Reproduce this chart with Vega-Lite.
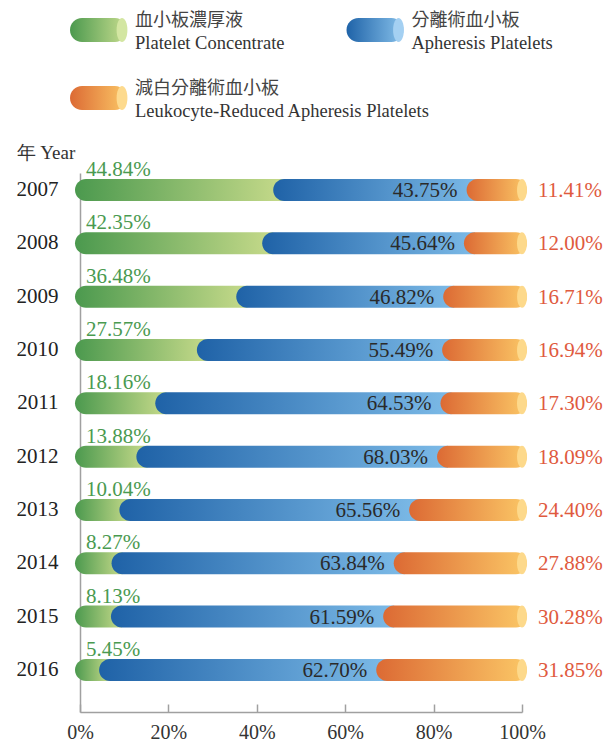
{
  "$schema": "https://vega.github.io/schema/vega-lite/v6.json",
  "padding": {"left": 16, "top": 12, "right": 0, "bottom": 5},
  "config": {"view": {"stroke": null}, "font": "Liberation Serif"},
  "spacing": 75,
  "bounds": "flush",
  "datasets": {
    "legend": [
      {"col": 0, "row": 0, "key": "pc", "zh": "血小板濃厚液", "en": "Platelet Concentrate"},
      {"col": 1, "row": 0, "key": "ap", "zh": "分離術血小板", "en": "Apheresis Platelets"},
      {"col": 0, "row": 1, "key": "lr", "zh": "減白分離術血小板", "en": "Leukocyte-Reduced Apheresis Platelets"}
    ],
    "main": [
      {"year": "2007", "pc": 44.84, "ap": 43.75, "lr": 11.41},
      {"year": "2008", "pc": 42.35, "ap": 45.64, "lr": 12.00},
      {"year": "2009", "pc": 36.48, "ap": 46.82, "lr": 16.71},
      {"year": "2010", "pc": 27.57, "ap": 55.49, "lr": 16.94},
      {"year": "2011", "pc": 18.16, "ap": 64.53, "lr": 17.30},
      {"year": "2012", "pc": 13.88, "ap": 68.03, "lr": 18.09},
      {"year": "2013", "pc": 10.04, "ap": 65.56, "lr": 24.40},
      {"year": "2014", "pc": 8.27, "ap": 63.84, "lr": 27.88},
      {"year": "2015", "pc": 8.13, "ap": 61.59, "lr": 30.28},
      {"year": "2016", "pc": 5.45, "ap": 62.70, "lr": 31.85}
    ]
  },
  "vconcat": [
    {
      "width": 276.5,
      "height": 68,
      "data": {"name": "legend"},
      "encoding": {
        "x": {"field": "col", "type": "quantitative", "scale": {"domain": [0, 1], "nice": false, "zero": false}, "axis": null},
        "y": {"field": "row", "type": "quantitative", "scale": {"domain": [0, 1], "nice": false, "reverse": true}, "axis": null}
      },
      "layer": [
        {
          "transform": [{"filter": "datum.key=='pc'"}],
          "mark": {"type": "point", "filled": true, "opacity": 1, "strokeWidth": 0, "size": 576, "xOffset": 18.5,
            "shape": "M-1.375,-1L1.375,-1C1.927,-1,2.375,-0.552,2.375,0C2.375,0.552,1.927,1,1.375,1L-1.375,1C-1.927,1,-2.375,0.552,-2.375,0C-2.375,-0.552,-1.927,-1,-1.375,-1Z",
            "color": {"gradient": "linear", "x1": 0, "x2": 1, "y1": 0, "y2": 0, "stops": [{"offset": 0, "color": "#4b994e"}, {"offset": 1, "color": "#c6dc8e"}]}}
        },
        {
          "transform": [{"filter": "datum.key=='ap'"}],
          "mark": {"type": "point", "filled": true, "opacity": 1, "strokeWidth": 0, "size": 576, "xOffset": 18.5,
            "shape": "M-1.375,-1L1.375,-1C1.927,-1,2.375,-0.552,2.375,0C2.375,0.552,1.927,1,1.375,1L-1.375,1C-1.927,1,-2.375,0.552,-2.375,0C-2.375,-0.552,-1.927,-1,-1.375,-1Z",
            "color": {"gradient": "linear", "x1": 0, "x2": 1, "y1": 0, "y2": 0, "stops": [{"offset": 0, "color": "#1f63a8"}, {"offset": 1, "color": "#86c0ea"}]}}
        },
        {
          "transform": [{"filter": "datum.key=='lr'"}],
          "mark": {"type": "point", "filled": true, "opacity": 1, "strokeWidth": 0, "size": 576, "xOffset": 18.5,
            "shape": "M-1.375,-1L1.375,-1C1.927,-1,2.375,-0.552,2.375,0C2.375,0.552,1.927,1,1.375,1L-1.375,1C-1.927,1,-2.375,0.552,-2.375,0C-2.375,-0.552,-1.927,-1,-1.375,-1Z",
            "color": {"gradient": "linear", "x1": 0, "x2": 1, "y1": 0, "y2": 0, "stops": [{"offset": 0, "color": "#dc6a34"}, {"offset": 1, "color": "#fbc766"}]}}
        },
        {
          "mark": {"type": "point", "filled": true, "opacity": 1, "strokeWidth": 0, "size": 576, "xOffset": 42,
            "shape": "M0,-1C0.25,-1,0.45,-0.552,0.45,0C0.45,0.552,0.25,1,0,1C-0.25,1,-0.45,0.552,-0.45,0C-0.45,-0.552,-0.25,-1,0,-1Z"},
          "encoding": {
            "color": {"field": "key", "type": "nominal", "legend": null, "scale": {"domain": ["pc", "ap", "lr"], "range": ["#d3e6a2", "#a4d0f2", "#fdda8e"]}}
          }
        },
        {
          "mark": {"type": "text", "align": "left", "baseline": "alphabetic", "xOffset": 55, "dy": -4, "font": "Noto Sans CJK TC", "fontSize": 18, "color": "#444"},
          "encoding": {"text": {"field": "zh"}}
        },
        {
          "mark": {"type": "text", "align": "left", "baseline": "alphabetic", "xOffset": 55, "dy": 19, "font": "Liberation Serif", "fontSize": 18.5, "color": "#333"},
          "encoding": {"text": {"field": "en"}}
        }
      ]
    },
    {
      "width": 442,
      "height": 539,
      "data": {"name": "main"},
      "transform": [
        {"fold": ["pc", "ap", "lr"], "as": ["key", "value"]},
        {"stack": "value", "groupby": ["year"], "as": ["x0", "x1"]},
        {"calculate": "format(datum.value, '.2f') + '%'", "as": "label"}
      ],
      "encoding": {
        "y": {
          "field": "year", "type": "ordinal",
          "scale": {"paddingInner": 0.3625, "paddingOuter": 0.235, "align": 0},
          "axis": {
            "title": "年 Year", "titleAngle": 0, "titleAlign": "left", "titleBaseline": "alphabetic",
            "titleX": -64, "titleY": -15, "titleFont": "Liberation Serif", "titleFontSize": 19, "titleFontWeight": "normal", "titleColor": "#333",
            "labelFont": "Liberation Serif", "labelFontSize": 21, "labelColor": "#222", "labelPadding": 22,
            "ticks": false, "domainColor": "#a0a0a0", "domainWidth": 1.5
          }
        }
      },
      "layer": [
        {
          "transform": [{"filter": "datum.key=='pc'"}],
          "mark": {"type": "bar", "height": 22, "xOffset": -5, "x2Offset": 6, "cornerRadiusTopLeft": 11, "cornerRadiusBottomLeft": 11,
            "color": {"gradient": "linear", "x1": 0, "x2": 1, "y1": 0, "y2": 0, "stops": [{"offset": 0, "color": "#4b994e"}, {"offset": 1, "color": "#c6da8a"}]}},
          "encoding": {
            "x": {"field": "x0", "type": "quantitative", "scale": {"domain": [0, 100], "nice": false},
              "axis": {"values": [0, 20, 40, 60, 80, 100], "labelExpr": "datum.value + '%'", "title": null, "grid": false,
                "tickSize": -8, "tickColor": "#a0a0a0", "tickWidth": 1.5, "domainColor": "#a0a0a0", "domainWidth": 1.5,
                "labelPadding": 18, "labelFlush": false, "labelFont": "Liberation Serif", "labelFontSize": 20, "labelColor": "#333"}},
            "x2": {"field": "x1"}
          }
        },
        {
          "transform": [{"filter": "datum.key=='ap'"}],
          "mark": {"type": "bar", "height": 22, "xOffset": -5, "x2Offset": 6, "cornerRadiusTopLeft": 11, "cornerRadiusBottomLeft": 11,
            "color": {"gradient": "linear", "x1": 0, "x2": 1, "y1": 0, "y2": 0, "stops": [{"offset": 0, "color": "#1f62a7"}, {"offset": 1, "color": "#7cbae7"}]}},
          "encoding": {"x": {"field": "x0", "type": "quantitative"}, "x2": {"field": "x1"}}
        },
        {
          "transform": [{"filter": "datum.key=='lr'"}],
          "mark": {"type": "bar", "height": 22, "xOffset": -5, "x2Offset": 5, "cornerRadius": 11,
            "color": {"gradient": "linear", "x1": 0, "x2": 1, "y1": 0, "y2": 0, "stops": [{"offset": 0, "color": "#dc6a34"}, {"offset": 1, "color": "#fbc766"}]}},
          "encoding": {"x": {"field": "x0", "type": "quantitative"}, "x2": {"field": "x1"}}
        },
        {
          "transform": [{"filter": "datum.key=='lr'"}],
          "mark": {"type": "point", "filled": true, "opacity": 1, "strokeWidth": 0, "size": 484, "color": "#fdd98b",
            "shape": "M0,-1C0.25,-1,0.45,-0.552,0.45,0C0.45,0.552,0.25,1,0,1C-0.25,1,-0.45,0.552,-0.45,0C-0.45,-0.552,-0.25,-1,0,-1Z"},
          "encoding": {"x": {"field": "x1", "type": "quantitative"}}
        },
        {
          "transform": [{"filter": "datum.key=='pc'"}],
          "mark": {"type": "text", "align": "left", "baseline": "alphabetic", "dx": 6, "dy": -14, "fontSize": 21, "color": "#4a9a50"},
          "encoding": {"x": {"field": "x0", "type": "quantitative"}, "text": {"field": "label"}}
        },
        {
          "transform": [{"filter": "datum.key=='ap'"}],
          "mark": {"type": "text", "align": "right", "baseline": "alphabetic", "dx": -14, "dy": 7, "fontSize": 21, "color": "#2a2a2a"},
          "encoding": {"x": {"field": "x1", "type": "quantitative"}, "text": {"field": "label"}}
        },
        {
          "transform": [{"filter": "datum.key=='lr'"}],
          "mark": {"type": "text", "align": "left", "baseline": "alphabetic", "dx": 16, "dy": 7, "fontSize": 21, "color": "#e05a3e"},
          "encoding": {"x": {"field": "x1", "type": "quantitative"}, "text": {"field": "label"}}
        }
      ]
    }
  ]
}
